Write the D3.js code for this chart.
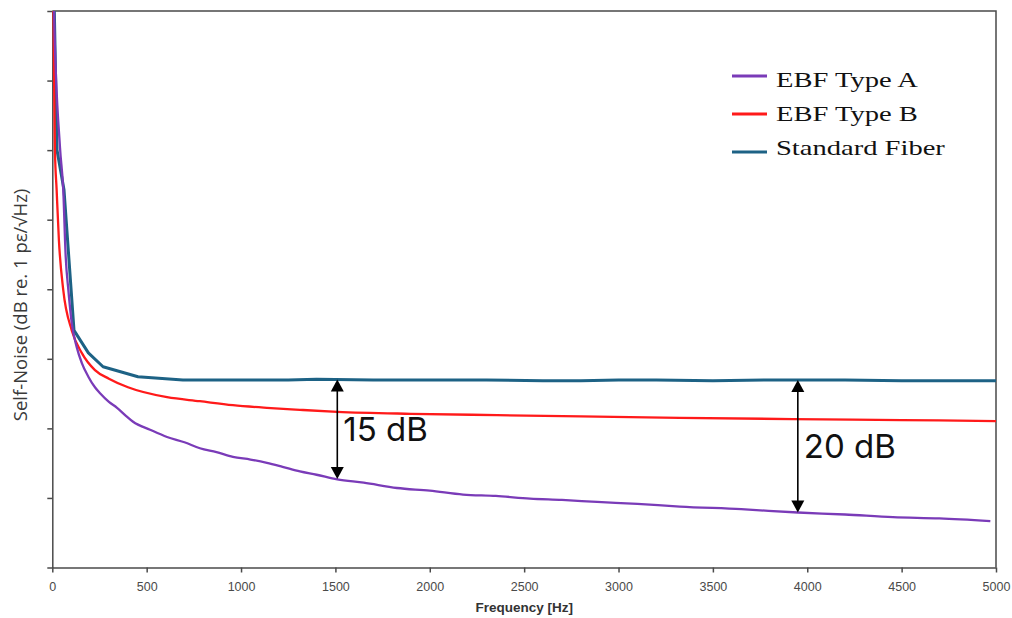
<!DOCTYPE html>
<html>
<head>
<meta charset="utf-8">
<script src="https://cdn.jsdelivr.net/npm/d3@7"></script>
<style>
  html, body { margin: 0; padding: 0; background: #fff; }
  svg { display: block; }
</style>
</head>
<body>
<svg id="chart" width="1012" height="618"></svg>
<script>
// Self-noise spectra (dB, arbitrary reference offset) versus frequency (Hz)
const typeAFreq  = [5, 9, 41, 58, 71, 85, 103, 129, 156, 191, 226, 253, 300, 343, 390, 428, 518, 608, 700, 782, 870, 957, 1050, 1137, 1220, 1312, 1400, 1510, 1650, 1826, 2000, 2176, 2350, 2531, 2700, 2886, 3100, 3325, 3650, 3950, 4200, 4454, 4700, 4970];
const typeANoise = [90, 84, 63.3, 57, 46.9, 41.9, 36.9, 33.3, 30.9, 28.8, 27.2, 26.3, 25.0, 24.1, 22.9, 22.0, 20.8, 19.7, 18.9, 18.0, 17.4, 16.7, 16.3, 15.8, 15.2, 14.5, 14.0, 13.3, 12.8, 12.0, 11.6, 11.0, 10.8, 10.4, 10.2, 9.9, 9.6, 9.2, 8.8, 8.3, 8.0, 7.6, 7.4, 7.0];

const typeBFreq  = [2, 5, 14, 23, 35, 58, 103, 156, 226, 300, 401, 608, 782, 957, 1137, 1312, 1510, 1900, 2356, 2800, 3325, 3924, 4500, 5000];
const typeBNoise = [95, 84, 63, 57, 49.4, 41.9, 35.8, 32.4, 29.8, 28.5, 27.2, 25.7, 25.1, 24.5, 24.1, 23.8, 23.5, 23.2, 23.0, 22.8, 22.6, 22.4, 22.25, 22.1];

const stdFreq  = [8, 25, 62, 115, 191, 269, 454, 692, 1000, 1250, 1400, 1700, 2000, 2300, 2600, 2800, 3000, 3200, 3500, 3800, 3950, 4200, 4500, 4800, 5000];
const stdNoise = [88, 63.0, 57.0, 35.8, 32.4, 30.3, 28.8, 28.3, 28.3, 28.3, 28.4, 28.3, 28.3, 28.3, 28.2, 28.2, 28.3, 28.3, 28.2, 28.3, 28.3, 28.3, 28.2, 28.2, 28.2];

const seriesNames  = ["EBF Type A", "EBF Type B", "Standard Fiber"];
const seriesColors = ["#7a3bb8", "#ff1a1a", "#1d6285"];

const xTickValues = [0, 500, 1000, 1500, 2000, 2500, 3000, 3500, 4000, 4500, 5000];
const yTickValues = [0, 10.5, 21, 31.5, 42, 52.5, 63, 73.5, 84];

// Gap annotations between the standard fiber and EBF Type A
const gapFreqs  = [1510, 3950];
const gapValues = [15, 20];
const gapLabels = ["15 dB", "20 dB"];

const xAxisTitle = "Frequency [Hz]";
const yAxisTitle = "Self-Noise (dB re. 1 pε/√Hz)";

// ---------------------------------------------------------------
const svg = d3.select("#chart");
const plotLeft = 52.3, plotRight = 996, plotTop = 11, plotBottom = 567.5;

const x = d3.scaleLinear().domain([0, 5000]).range([plotLeft, plotRight]);
const y = d3.scaleLinear().domain([0, 84]).range([plotBottom, plotTop]);

svg.append("defs").append("clipPath").attr("id", "plot-clip")
  .append("rect").attr("x", plotLeft).attr("y", plotTop)
  .attr("width", plotRight - plotLeft).attr("height", plotBottom - plotTop);

// Axes
const xAxis = svg.append("g")
  .attr("transform", `translate(0,${plotBottom})`)
  .call(d3.axisBottom(x).tickValues(xTickValues).tickFormat(d3.format("d"))
    .tickSize(5).tickPadding(9.5).tickSizeOuter(0));
xAxis.selectAll("text")
  .attr("fill", "#4a4a4a")
  .style("font-family", "'Liberation Sans', Arial, sans-serif")
  .style("font-size", "12.5px");

const yAxis = svg.append("g")
  .attr("transform", `translate(${plotLeft},0)`)
  .call(d3.axisLeft(y).tickValues(yTickValues).tickFormat("").tickSize(5).tickSizeOuter(0));

svg.selectAll(".domain, .tick line").attr("stroke", "#4a4a4a").attr("stroke-width", 1.5);

// Frame on top and right
svg.append("path")
  .attr("d", `M${plotLeft},${plotTop}H${plotRight}V${plotBottom}`)
  .attr("fill", "none").attr("stroke", "#4a4a4a").attr("stroke-width", 1.5);

// Axis titles
svg.append("text")
  .attr("x", (plotLeft + plotRight) / 2).attr("y", 612)
  .attr("text-anchor", "middle")
  .style("font-family", "'Liberation Sans', Arial, sans-serif")
  .style("font-size", "13.5px").style("font-weight", "bold")
  .attr("fill", "#333")
  .text(xAxisTitle);

svg.append("text")
  .attr("transform", `translate(27,${305}) rotate(-90)`)
  .attr("text-anchor", "middle")
  .style("font-family", "'Open Sans', 'Liberation Sans', sans-serif")
  .style("font-size", "18.5px")
  .attr("fill", "#3a3a3a")
  .text(yAxisTitle);

// Curves
const series = [
  { freq: typeAFreq, noise: typeANoise, width: 2.3, curve: d3.curveMonotoneX },
  { freq: typeBFreq, noise: typeBNoise, width: 2.3, curve: d3.curveMonotoneX },
  { freq: stdFreq,   noise: stdNoise,   width: 3,   curve: d3.curveLinear }
];

const plot = svg.append("g").attr("clip-path", "url(#plot-clip)");
// standard fiber first, then type B, then type A on top near the origin
[2, 1, 0].forEach(i => {
  const s = series[i];
  const pts = s.freq.map((f, k) => [f, s.noise[k]]);
  plot.append("path")
    .datum(pts)
    .attr("fill", "none")
    .attr("stroke", seriesColors[i])
    .attr("stroke-width", s.width)
    .attr("stroke-linejoin", "round")
    .attr("d", d3.line().x(d => x(d[0])).y(d => y(d[1])).curve(s.curve));
});

// Gap arrows
const stdAt = f => {
  const i = d3.bisectRight(stdFreq, f);
  const a = Math.max(0, i - 1), b = Math.min(stdFreq.length - 1, i);
  if (a === b) return stdNoise[a];
  return stdNoise[a] + (stdNoise[b] - stdNoise[a]) * (f - stdFreq[a]) / (stdFreq[b] - stdFreq[a]);
};

const ann = svg.append("g");
gapFreqs.forEach((f, i) => {
  const vTop = stdAt(f);
  const vBot = vTop - gapValues[i];
  const cx = x(f), y0 = y(vTop), y1 = y(vBot);
  const head = 12, half = 6.5;
  ann.append("line")
    .attr("x1", cx).attr("x2", cx)
    .attr("y1", y0 + head - 1).attr("y2", y1 - head + 1)
    .attr("stroke", "#000").attr("stroke-width", 1.6);
  ann.append("path")
    .attr("d", `M${cx},${y0}L${cx - half},${y0 + head}L${cx + half},${y0 + head}Z`)
    .attr("fill", "#000");
  ann.append("path")
    .attr("d", `M${cx},${y1}L${cx - half},${y1 - head}L${cx + half},${y1 - head}Z`)
    .attr("fill", "#000");
  ann.append("text")
    .attr("x", cx + 6).attr("y", (y0 + y1) / 2 + 12)
    .style("font-family", "Inter, 'Noto Sans', sans-serif")
    .style("font-size", "33px")
    .attr("fill", "#111")
    .text(gapLabels[i]);
});

// Legend
const legendLineY = [76, 114, 152];
const legendTextY = [87, 121, 155];
const legend = svg.append("g");
seriesNames.forEach((name, i) => {
  legend.append("line")
    .attr("x1", 732).attr("x2", 767)
    .attr("y1", legendLineY[i]).attr("y2", legendLineY[i])
    .attr("stroke", seriesColors[i]).attr("stroke-width", 2.8);
  legend.append("text")
    .attr("transform", `translate(776,${legendTextY[i]}) scale(1.36,1)`)
    .style("font-family", "'Liberation Serif', 'Times New Roman', serif")
    .style("font-size", "21px")
    .attr("fill", "#111")
    .text(name);
});
</script>
</body>
</html>
